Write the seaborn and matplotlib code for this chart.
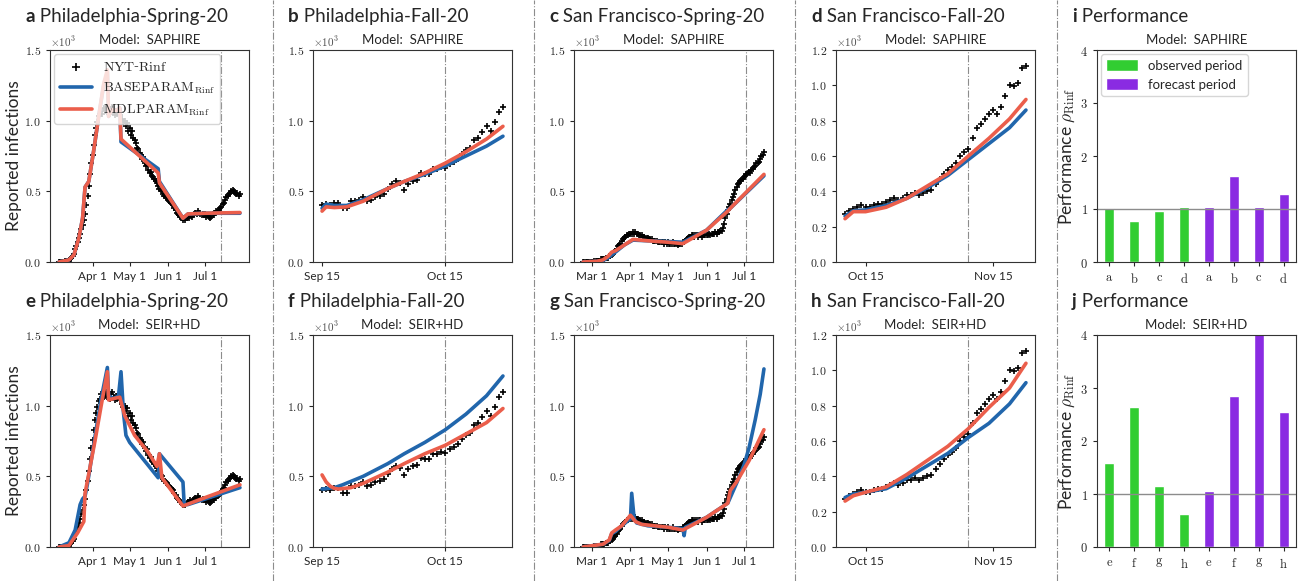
import numpy as np
import pandas as pd
import matplotlib
matplotlib.use('Agg')
import matplotlib.pyplot as plt
import matplotlib.dates as mdates
from matplotlib.ticker import FuncFormatter
from matplotlib.lines import Line2D
import seaborn as sns

# ---- NYT reported infections (x10^3), daily ----
phl_spring_start = '2020-03-05'
phl_spring_nyt = [
    0.00, 0.00, 0.00, 0.00, 0.00, 0.01, 0.01, 0.01, 0.01, 0.02,
    0.03, 0.04, 0.06, 0.09, 0.11, 0.14, 0.17,
    0.20, 0.23, 0.26, 0.30, 0.34, 0.40, 0.47, 0.54, 0.62, 0.70,
    0.76, 0.83, 0.90, 0.95, 0.99, 1.03, 1.05, 1.08, 1.05, 1.09,
    1.07, 1.10, 1.06, 1.09, 1.05, 1.08, 1.10, 1.06, 1.04, 1.07,
    1.05, 1.08, 1.04, 1.06, 1.01, 0.99, 1.00, 0.96, 0.98, 0.93,
    0.95, 0.90, 0.93, 0.88, 0.86, 0.84, 0.81, 0.80, 0.77, 0.76,
    0.73, 0.74, 0.70, 0.68, 0.69, 0.65, 0.63, 0.64, 0.61, 0.60,
    0.59, 0.57, 0.56, 0.54, 0.52, 0.51, 0.50, 0.48, 0.47, 0.46, 0.45,
    0.44, 0.43, 0.42, 0.41, 0.40, 0.38, 0.37, 0.35, 0.34, 0.33,
    0.32, 0.31, 0.30, 0.31, 0.30, 0.31, 0.32, 0.31, 0.33, 0.32,
    0.33, 0.34, 0.35, 0.34, 0.36, 0.35, 0.34, 0.33, 0.34, 0.33,
    0.34, 0.32, 0.33, 0.32, 0.31, 0.32, 0.34, 0.33, 0.35, 0.36,
    0.36, 0.37, 0.38, 0.39, 0.41, 0.42, 0.44, 0.46, 0.47, 0.48,
    0.49, 0.50, 0.51, 0.50, 0.49, 0.48, 0.49, 0.47, 0.48]

phl_fall_start = '2020-09-15'
phl_fall_nyt = [
    0.40, 0.41, 0.40, 0.42, 0.42, 0.38, 0.38, 0.43, 0.43, 0.44,
    0.46, 0.43, 0.44, 0.46, 0.47, 0.48,
    0.52, 0.55, 0.57, 0.56, 0.51, 0.55, 0.57, 0.58, 0.63, 0.62,
    0.62, 0.66, 0.66, 0.67, 0.665, 0.69, 0.71, 0.73, 0.765, 0.79,
    0.81, 0.86, 0.88, 0.92, 0.96, 0.93, 0.99, 1.06, 1.10]

sf_spring_start = '2020-02-23'
sf_spring_nyt = [
    0.00, 0.00, 0.00, 0.00, 0.00, 0.00, 0.00,
    0.00, 0.00, 0.01, 0.01, 0.01, 0.01, 0.01, 0.02, 0.02, 0.02,
    0.02, 0.03, 0.03, 0.03, 0.04, 0.04, 0.05, 0.06, 0.07, 0.08,
    0.09, 0.11, 0.12, 0.13, 0.15, 0.16, 0.17, 0.18, 0.19, 0.19, 0.20,
    0.20, 0.20, 0.21, 0.20, 0.21, 0.20, 0.20, 0.19, 0.19, 0.19,
    0.18, 0.18, 0.17, 0.17, 0.17, 0.16, 0.16, 0.16, 0.15, 0.15,
    0.15, 0.15, 0.14, 0.14, 0.14, 0.14, 0.14, 0.13, 0.14, 0.13,
    0.14, 0.13, 0.13, 0.13, 0.14, 0.13, 0.13, 0.13, 0.12, 0.13,
    0.13, 0.13, 0.14, 0.14, 0.15, 0.16, 0.17, 0.18, 0.18, 0.19,
    0.19, 0.18, 0.19, 0.19, 0.18, 0.19, 0.19, 0.18, 0.19, 0.19, 0.19,
    0.19, 0.19, 0.20, 0.19, 0.20, 0.20, 0.20, 0.21, 0.20, 0.21,
    0.21, 0.22, 0.22, 0.24, 0.27, 0.31, 0.34, 0.37, 0.39, 0.41,
    0.44, 0.46, 0.48, 0.51, 0.53, 0.55, 0.56, 0.57, 0.58, 0.59,
    0.60, 0.61, 0.62, 0.63, 0.64, 0.63, 0.65, 0.66, 0.67, 0.68,
    0.70, 0.70, 0.71, 0.73, 0.75, 0.76, 0.78]

sf_fall_start = '2020-10-10'
sf_fall_nyt = [
    0.27, 0.29, 0.30, 0.31, 0.32, 0.31, 0.31, 0.32, 0.33, 0.33,
    0.34, 0.35, 0.36, 0.35, 0.36, 0.38, 0.38, 0.39, 0.38, 0.39,
    0.40, 0.41, 0.44, 0.47, 0.50, 0.52, 0.54, 0.56, 0.60, 0.62,
    0.64, 0.70, 0.756, 0.78, 0.81, 0.84, 0.86, 0.84, 0.875, 0.94,
    1.00, 0.995, 1.015, 1.10, 1.11]

# ---- model fits (x10^3) ----
a_base_dates = ['03-05', '03-13', '03-17', '03-21', '03-24', '03-26', '03-29', '04-02', '04-06',
                '04-10', '04-13', '04-14', '04-15', '04-17', '04-20', '04-23', '04-24', '05-24',
                '05-25', '06-13', '06-17', '07-01', '07-29']
a_base_vals = [0.00, 0.015, 0.05, 0.17, 0.31, 0.53, 0.57, 0.79, 1.03,
               1.25, 1.34, 1.03, 1.05, 1.08, 1.07, 1.09, 0.85, 0.66,
               0.57, 0.31, 0.34, 0.345, 0.345]
a_mdl_dates = a_base_dates
a_mdl_vals = [0.00, 0.015, 0.05, 0.17, 0.31, 0.53, 0.57, 0.79, 1.03,
              1.26, 1.36, 1.03, 1.05, 1.08, 1.07, 1.09, 0.87, 0.63,
              0.56, 0.31, 0.34, 0.345, 0.35]

e_base_dates = ['03-05', '03-13', '03-18', '03-22', '03-24', '03-26', '03-28', '04-03', '04-08',
                '04-13', '04-14', '04-18', '04-22', '04-24', '04-26', '04-28', '05-01', '05-24',
                '05-25', '06-13', '06-14', '06-17', '07-29']
e_base_vals = [0.00, 0.03, 0.12, 0.30, 0.34, 0.36, 0.45, 0.78, 1.05,
               1.27, 1.07, 1.05, 1.07, 1.24, 0.95, 0.79, 0.74, 0.49,
               0.66, 0.46, 0.30, 0.30, 0.42]
e_mdl_dates = ['03-05', '03-13', '03-20', '03-25', '03-26', '04-03', '04-08', '04-13', '04-14',
               '04-18', '04-23', '04-27', '05-05', '05-16', '05-23', '05-25', '05-27', '06-13',
               '07-01', '07-29']
e_mdl_vals = [0.00, 0.01, 0.10, 0.18, 0.38, 0.75, 1.00, 1.24, 1.04,
              1.05, 1.06, 0.93, 0.79, 0.67, 0.57, 0.66, 0.49, 0.29,
              0.35, 0.44]

b_dates = ['09-15', '09-16', '09-18', '09-21', '09-25', '10-01', '10-05', '10-10', '10-15',
           '10-20', '10-25', '10-29']
b_base_vals = [0.38, 0.41, 0.40, 0.40, 0.44, 0.52, 0.57, 0.62, 0.68, 0.75, 0.82, 0.89]
b_mdl_vals = [0.36, 0.39, 0.385, 0.39, 0.43, 0.52, 0.57, 0.63, 0.70, 0.78, 0.87, 0.96]

f_base_dates = ['09-15', '09-18', '09-20', '09-25', '10-01', '10-05', '10-10', '10-15', '10-20',
                '10-25', '10-29']
f_base_vals = [0.41, 0.42, 0.44, 0.50, 0.59, 0.66, 0.74, 0.83, 0.94, 1.07, 1.21]
f_mdl_dates = ['09-15', '09-16', '09-17', '09-18', '09-19', '09-22', '09-25', '10-01', '10-05',
               '10-10', '10-15', '10-20', '10-25', '10-29']
f_mdl_vals = [0.51, 0.46, 0.43, 0.415, 0.41, 0.42, 0.45, 0.53, 0.59, 0.66, 0.72, 0.80, 0.88, 0.98]

c_dates = ['02-23', '03-05', '03-10', '03-14', '03-17', '03-20', '03-27', '04-03', '04-15',
           '05-01', '05-13', '06-01', '06-18', '06-20', '07-17']
c_base_vals = [0.00, 0.005, 0.01, 0.03, 0.05, 0.07, 0.12, 0.155, 0.15,
               0.145, 0.14, 0.225, 0.37, 0.38, 0.61]
c_mdl_vals = [0.00, 0.005, 0.015, 0.04, 0.07, 0.08, 0.12, 0.16, 0.15,
              0.14, 0.13, 0.225, 0.36, 0.38, 0.62]

g_base_dates = ['02-23', '03-10', '03-15', '03-17', '03-20', '03-25', '04-01', '04-02', '04-04',
                '04-06', '04-15', '05-01', '05-13', '05-14', '05-15', '06-01', '06-18', '06-25',
                '07-01', '07-05', '07-10', '07-14', '07-17']
g_base_vals = [0.00, 0.02, 0.045, 0.095, 0.11, 0.15, 0.20, 0.38, 0.20,
               0.17, 0.15, 0.14, 0.13, 0.08, 0.14, 0.21, 0.31, 0.45,
               0.58, 0.70, 0.90, 1.08, 1.26]
g_mdl_dates = ['02-23', '03-10', '03-15', '03-17', '03-20', '03-25', '04-01', '04-05', '04-10',
               '05-01', '05-13', '06-01', '06-18', '06-20', '06-25', '07-01', '07-05', '07-10',
               '07-17']
g_mdl_vals = [0.00, 0.02, 0.05, 0.10, 0.12, 0.15, 0.225, 0.18, 0.16,
              0.14, 0.12, 0.21, 0.31, 0.40, 0.46, 0.55, 0.61, 0.70, 0.83]

d_dates = ['10-10', '10-12', '10-15', '10-20', '10-25', '10-30', '11-04', '11-09', '11-14',
           '11-19', '11-23']
d_base_vals = [0.26, 0.29, 0.295, 0.32, 0.36, 0.42, 0.49, 0.58, 0.67, 0.76, 0.86]
d_mdl_vals = [0.245, 0.285, 0.285, 0.31, 0.36, 0.43, 0.50, 0.60, 0.70, 0.81, 0.92]
h_base_vals = [0.28, 0.30, 0.31, 0.33, 0.39, 0.46, 0.53, 0.62, 0.70, 0.81, 0.93]
h_mdl_vals = [0.26, 0.29, 0.31, 0.34, 0.41, 0.49, 0.57, 0.67, 0.79, 0.90, 1.04]

# ---- performance bars ----
periods = ['observed period'] * 4 + ['forecast period'] * 4
i_labels = ['a', 'b', 'c', 'd', 'a', 'b', 'c', 'd']
i_perf = [1.02, 0.78, 0.97, 1.04, 1.04, 1.63, 1.04, 1.29]
j_labels = ['e', 'f', 'g', 'h', 'e', 'f', 'g', 'h']
j_perf = [1.59, 2.65, 1.16, 0.63, 1.06, 2.84, 4.40, 2.54]

BLUE = '#2166ac'
RED = '#eb5e4b'

sns.set_style('ticks', {'axes.edgecolor': '0.2'})
plt.rcParams['font.family'] = ['Lato', 'DejaVu Sans']
plt.rcParams['mathtext.fontset'] = 'cm'

fig = plt.figure(figsize=(13.07, 5.81), dpi=100)
W, H = 1307, 581
lefts = [50, 313, 574, 836, 1097]
tops = [50, 335]


def make_ax(col, row):
    l = lefts[col] / W
    b = 1 - (tops[row] + 212) / H
    return fig.add_axes([l, b, 199 / W, 212 / H])


def to_dates(year_days):
    return pd.to_datetime(['2020-' + d for d in year_days])


def panel_title(ax, letter, name, model):
    t = ax.text(-0.125, 1.13, letter, transform=ax.transAxes, fontsize=13.5,
                fontweight='bold', va='baseline')
    ax.annotate(' ' + name, xy=(1, 0), xycoords=t, va='bottom', fontsize=13.5)
    if model:
        ax.set_title('Model:  ' + model, fontsize=9.5, pad=4)
    ax.text(0.0, 1.005, r'$\times10^{3}$', transform=ax.transAxes, fontsize=8,
            va='bottom', ha='left', color='0.3')


def draw_case(ax, start, nyt, bdates, bvals, mdates_, mvals, vline, ymax, ystep,
              locator, legend=False):
    days = pd.date_range(start, periods=len(nyt), freq='D')
    sns.scatterplot(x=days, y=nyt, marker='+', color='k', s=24, linewidth=1.2,
                    ax=ax, label='$\\mathrm{NYT}$-$\\mathrm{Rinf}$' if legend else None,
                    zorder=2, legend=False)
    sns.lineplot(x=to_dates(bdates), y=bvals, color=BLUE, lw=2.6, ax=ax,
                 label=r'$\mathrm{BASEPARAM}_{\mathrm{Rinf}}$' if legend else None,
                 zorder=3, legend=False)
    sns.lineplot(x=to_dates(mdates_), y=mvals, color=RED, lw=2.6, ax=ax,
                 label=r'$\mathrm{MDLPARAM}_{\mathrm{Rinf}}$' if legend else None,
                 zorder=4, legend=False)
    ax.axvline(pd.Timestamp('2020-' + vline), color='0.55', ls='-.', lw=0.8, zorder=1)
    ax.set_ylim(0, ymax)
    ax.set_yticks(np.arange(0, ymax + 1e-9, ystep))
    ax.yaxis.set_major_formatter(FuncFormatter(lambda v, p: f'${v:.1f}$'))
    ax.xaxis.set_major_locator(locator)
    ax.xaxis.set_major_formatter(FuncFormatter(
        lambda v, p: f'{mdates.num2date(v):%b} {mdates.num2date(v).day}'))
    ax.tick_params(axis='both', labelsize=8.5, length=3, width=0.8)
    ax.set_xlabel('')
    ax.set_ylabel('')
    if legend:
        ax.legend(loc='upper left', borderaxespad=0.3,
                  prop={'family': 'DejaVu Serif', 'size': 10}, handlelength=2.3,
                  markerscale=1.2)


def draw_perf(ax, labels, perf, model, letter, legend=False):
    sns.barplot(x=list(range(len(perf))), y=perf, hue=periods,
                palette={'observed period': 'limegreen', 'forecast period': 'blueviolet'},
                dodge=False, width=0.4, saturation=1, ax=ax, legend=legend)
    ax.axhline(1, color='0.55', lw=1)
    ax.set_ylim(0, 4)
    ax.set_yticks(range(5))
    ax.yaxis.set_major_formatter(FuncFormatter(lambda v, p: f'${v:.0f}$'))
    ax.set_xticks(range(len(labels)), [f'$\\mathrm{{{c}}}$' for c in labels])
    ax.tick_params(axis='both', labelsize=9, length=3, width=0.8)
    ax.set_ylabel(r'Performance $\rho_{\mathrm{Rinf}}$', fontsize=12.5)
    ax.yaxis.set_label_coords(-0.10, 0.5)
    t = ax.text(-0.125, 1.13, letter, transform=ax.transAxes, fontsize=13.5,
                fontweight='bold', va='baseline')
    ax.annotate(' Performance', xy=(1, 0), xycoords=t, va='bottom', fontsize=13.5)
    ax.set_title('Model:  ' + model, fontsize=9.5, pad=4)
    if legend:
        sns.move_legend(ax, 'upper left', title=None, fontsize=9.5, handlelength=2.4,
                        handleheight=1.0, borderaxespad=0.3)


spring_phl_loc = mdates.MonthLocator(bymonth=[4, 5, 6, 7])
spring_sf_loc = mdates.MonthLocator(bymonth=[3, 4, 5, 6, 7])
fall_phl_loc = mdates.MonthLocator(bymonth=[9, 10], bymonthday=15)
fall_sf_loc = mdates.MonthLocator(bymonth=[10, 11], bymonthday=15)

# row 1: SAPHIRE
ax = make_ax(0, 0)
draw_case(ax, phl_spring_start, phl_spring_nyt, a_base_dates, a_base_vals, a_mdl_dates,
          a_mdl_vals, '07-14', 1.5, 0.5, spring_phl_loc, legend=True)
panel_title(ax, 'a', 'Philadelphia-Spring-20', 'SAPHIRE')
ax.set_ylabel('Reported infections', fontsize=12.5)
ax.yaxis.set_label_coords(-0.14, 0.5)

ax = make_ax(1, 0)
draw_case(ax, phl_fall_start, phl_fall_nyt, b_dates, b_base_vals, b_dates, b_mdl_vals,
          '10-15', 1.5, 0.5, fall_phl_loc)
panel_title(ax, 'b', 'Philadelphia-Fall-20', 'SAPHIRE')

ax = make_ax(2, 0)
draw_case(ax, sf_spring_start, sf_spring_nyt, c_dates, c_base_vals, c_dates, c_mdl_vals,
          '07-03', 1.5, 0.5, spring_sf_loc)
panel_title(ax, 'c', 'San Francisco-Spring-20', 'SAPHIRE')

ax = make_ax(3, 0)
draw_case(ax, sf_fall_start, sf_fall_nyt, d_dates, d_base_vals, d_dates, d_mdl_vals,
          '11-09', 1.2, 0.2, fall_sf_loc)
panel_title(ax, 'd', 'San Francisco-Fall-20', 'SAPHIRE')

ax = make_ax(4, 0)
draw_perf(ax, i_labels, i_perf, 'SAPHIRE', 'i', legend=True)

# row 2: SEIR+HD
ax = make_ax(0, 1)
draw_case(ax, phl_spring_start, phl_spring_nyt, e_base_dates, e_base_vals, e_mdl_dates,
          e_mdl_vals, '07-14', 1.5, 0.5, spring_phl_loc)
panel_title(ax, 'e', 'Philadelphia-Spring-20', 'SEIR+HD')
ax.set_ylabel('Reported infections', fontsize=12.5)
ax.yaxis.set_label_coords(-0.14, 0.5)

ax = make_ax(1, 1)
draw_case(ax, phl_fall_start, phl_fall_nyt, f_base_dates, f_base_vals, f_mdl_dates,
          f_mdl_vals, '10-15', 1.5, 0.5, fall_phl_loc)
panel_title(ax, 'f', 'Philadelphia-Fall-20', 'SEIR+HD')

ax = make_ax(2, 1)
draw_case(ax, sf_spring_start, sf_spring_nyt, g_base_dates, g_base_vals, g_mdl_dates,
          g_mdl_vals, '07-03', 1.5, 0.5, spring_sf_loc)
panel_title(ax, 'g', 'San Francisco-Spring-20', None)

ax = make_ax(3, 1)
draw_case(ax, sf_fall_start, sf_fall_nyt, d_dates, h_base_vals, d_dates, h_mdl_vals,
          '11-09', 1.2, 0.2, fall_sf_loc)
panel_title(ax, 'h', 'San Francisco-Fall-20', 'SEIR+HD')

ax = make_ax(4, 1)
draw_perf(ax, j_labels, j_perf, 'SEIR+HD', 'j')

# column separators
for x in [273, 534, 795, 1057]:
    fig.add_artist(Line2D([x / W, x / W], [0, 1], transform=fig.transFigure,
                          color='0.55', ls='-.', lw=0.8))

fig.savefig('out.png', dpi=100)
